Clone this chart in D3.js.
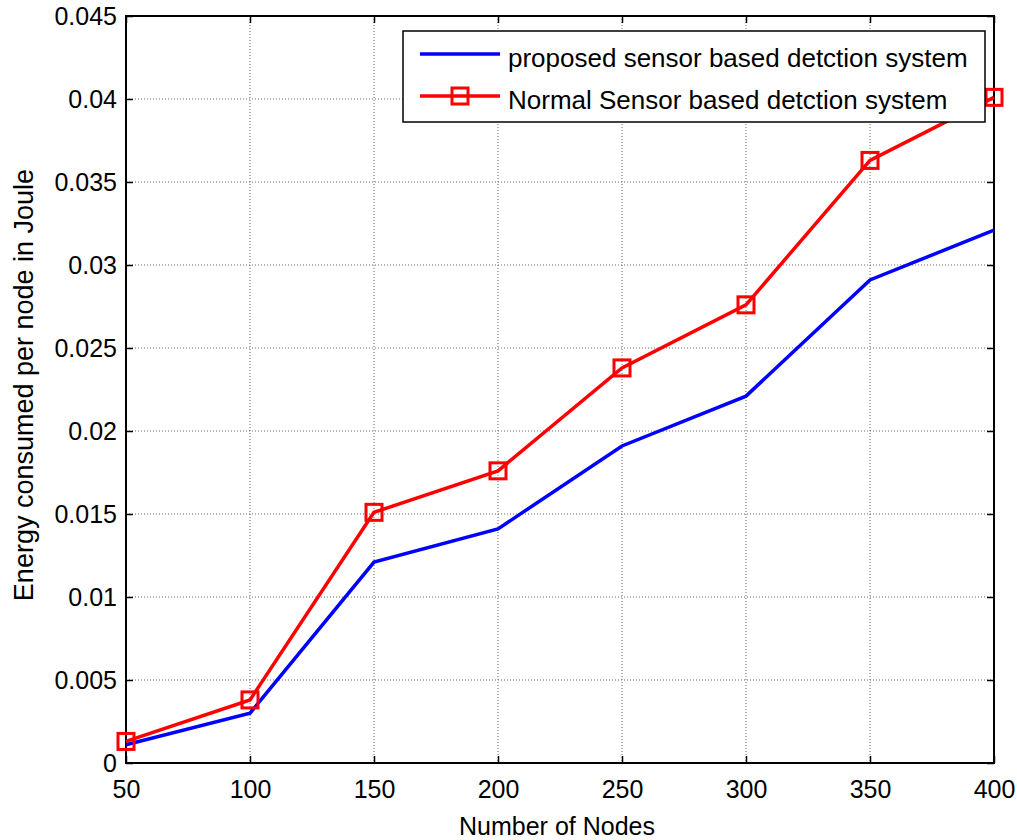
<!DOCTYPE html>
<html>
<head>
<meta charset="utf-8">
<script src="https://cdn.jsdelivr.net/npm/d3@7"></script>
<style>
  html, body { margin: 0; padding: 0; background: #fff; }
  svg { display: block; font-family: "Liberation Sans", Arial, sans-serif; }
</style>
</head>
<body>
<div id="chart"></div>
<script>
const nodes = [50, 100, 150, 200, 250, 300, 350, 400];
const proposed = [0.0011, 0.0030, 0.0121, 0.0141, 0.0191, 0.0221, 0.0291, 0.0321];
const normal = [0.0013, 0.0038, 0.0151, 0.0176, 0.0238, 0.0276, 0.0363, 0.0401];
const yTicks = [0, 0.005, 0.01, 0.015, 0.02, 0.025, 0.03, 0.035, 0.04, 0.045];
const yTickLabels = ["0", "0.005", "0.01", "0.015", "0.02", "0.025", "0.03", "0.035", "0.04", "0.045"];
const seriesNames = ["proposed sensor based detction system", "Normal Sensor based detction system"];

const W = 1017, H = 840;
const pL = 126, pR = 994, pT = 16, pB = 763;

const svg = d3.select("#chart").append("svg")
    .attr("width", W)
    .attr("height", H);

const x = d3.scaleLinear().domain([50, 400]).range([pL, pR]);
const y = d3.scaleLinear().domain([0, 0.045]).range([pB, pT]);

// grid
const grid = svg.append("g");
grid.selectAll(".gx").data(nodes.slice(1, -1)).join("line")
    .attr("x1", d => x(d)).attr("x2", d => x(d))
    .attr("y1", pT).attr("y2", pB)
    .attr("stroke", "#444").attr("stroke-width", 0.8)
    .attr("stroke-dasharray", "1,2");
grid.selectAll(".gy").data(yTicks.slice(1, -1)).join("line")
    .attr("x1", pL).attr("x2", pR)
    .attr("y1", d => y(d)).attr("y2", d => y(d))
    .attr("stroke", "#444").attr("stroke-width", 0.8)
    .attr("stroke-dasharray", "1,2");

// axes with inward ticks
const tickLen = 7;
const xAxis = svg.append("g").attr("transform", `translate(0,${pB})`)
    .call(d3.axisBottom(x).tickValues(nodes).tickSize(-tickLen).tickPadding(17).tickFormat(d3.format("d")));
const xAxisTop = svg.append("g").attr("transform", `translate(0,${pT})`)
    .call(d3.axisTop(x).tickValues(nodes).tickSize(-tickLen).tickFormat(""));
const yAxis = svg.append("g").attr("transform", `translate(${pL},0)`)
    .call(d3.axisLeft(y).tickValues(yTicks).tickSize(-tickLen).tickPadding(9)
        .tickFormat((d, i) => yTickLabels[i]));
const yAxisRight = svg.append("g").attr("transform", `translate(${pR},0)`)
    .call(d3.axisRight(y).tickValues(yTicks).tickSize(-tickLen).tickFormat(""));

[xAxis, xAxisTop, yAxis, yAxisRight].forEach(g => {
    g.select(".domain").remove();
    g.selectAll(".tick line").attr("stroke", "#000").attr("stroke-width", 1.5);
    g.selectAll("text").attr("font-size", 25).attr("fill", "#000")
        .attr("font-family", "Liberation Sans, Arial, sans-serif");
});

svg.append("rect")
    .attr("x", pL).attr("y", pT)
    .attr("width", pR - pL).attr("height", pB - pT)
    .attr("fill", "none").attr("stroke", "#000").attr("stroke-width", 2);

// lines
const line = d3.line().x((d, i) => x(nodes[i])).y(d => y(d));
svg.append("path").datum(proposed)
    .attr("d", line).attr("fill", "none")
    .attr("stroke", "#0000ff").attr("stroke-width", 3.5);
svg.append("path").datum(normal)
    .attr("d", line).attr("fill", "none")
    .attr("stroke", "#ff0000").attr("stroke-width", 3.5);

const ms = 16;
svg.selectAll(".mk").data(normal).join("rect")
    .attr("x", (d, i) => x(nodes[i]) - ms / 2)
    .attr("y", d => y(d) - ms / 2)
    .attr("width", ms).attr("height", ms)
    .attr("fill", "none").attr("stroke", "#ff0000").attr("stroke-width", 3);

// axis labels
svg.append("text")
    .attr("x", 557).attr("y", 835)
    .attr("text-anchor", "middle")
    .attr("font-size", 25)
    .text("Number of Nodes");
svg.append("text")
    .attr("transform", `translate(33,385) rotate(-90)`)
    .attr("text-anchor", "middle")
    .attr("font-size", 27)
    .text("Energy consumed per node in Joule");

// legend
const lg = svg.append("g");
lg.append("rect")
    .attr("x", 403).attr("y", 31)
    .attr("width", 582).attr("height", 91)
    .attr("fill", "#fff").attr("stroke", "#000").attr("stroke-width", 1.5);
const lgY = [54, 96];
const lgColors = ["#0000ff", "#ff0000"];
seriesNames.forEach((name, i) => {
    lg.append("line")
        .attr("x1", 420).attr("x2", 500)
        .attr("y1", lgY[i]).attr("y2", lgY[i])
        .attr("stroke", lgColors[i]).attr("stroke-width", 3.5);
    if (i === 1) {
        lg.append("rect")
            .attr("x", 460 - ms / 2).attr("y", lgY[i] - ms / 2)
            .attr("width", ms).attr("height", ms)
            .attr("fill", "none").attr("stroke", "#ff0000").attr("stroke-width", 3);
    }
    lg.append("text")
        .attr("x", 508).attr("y", lgY[i] + 13)
        .attr("font-size", 26)
        .text(name);
});
</script>
</body>
</html>
